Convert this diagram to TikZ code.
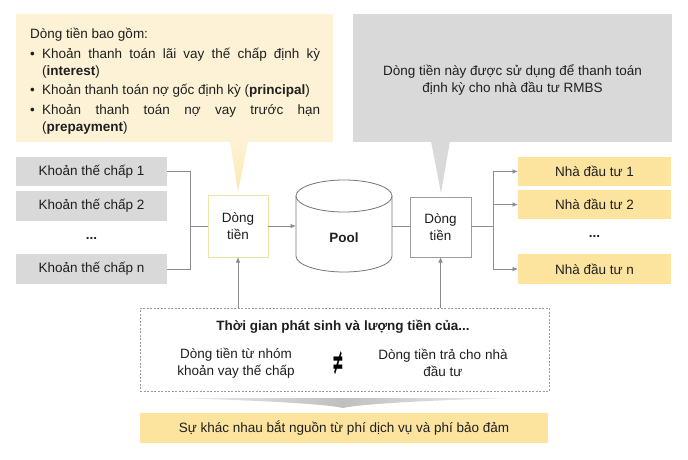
\documentclass[tikz,border=0pt]{standalone}
\usepackage{fontspec}
\setmainfont{Liberation Sans}
\newfontfamily\symfont{DejaVu Sans}
\usepackage{graphicx}
\usetikzlibrary{arrows.meta}
\definecolor{calloutY}{HTML}{FDF2D5}
\definecolor{boxY}{HTML}{FCE49E}
\definecolor{grayBox}{HTML}{D9D9D9}
\definecolor{yBorder}{HTML}{EDE3A8}
\definecolor{gBorder}{HTML}{9E9E9E}
\definecolor{lineC}{HTML}{8C8C8C}
\definecolor{dashC}{HTML}{9A9A9A}
\definecolor{txt}{HTML}{1F1F1F}
\tikzset{
  gbox/.style={fill=grayBox, minimum width=151pt, minimum height=29.5pt, inner sep=0pt, outer sep=0pt, text=txt},
  ybox/.style={fill=boxY, minimum width=153pt, minimum height=29.5pt, inner sep=0pt, outer sep=0pt, text=txt},
  flowbox/.style={draw, line width=0.8pt, fill=white, minimum width=60pt, minimum height=62pt, inner sep=0pt, outer sep=0pt, align=center, text=txt},
  conn/.style={draw=lineC, line width=0.8pt},
  arr/.style={conn, -{Latex[length=5.5pt,width=4.5pt]}, fill=none},
  ctext/.style={inner sep=0pt, anchor=base west, text=txt},
  dotsnode/.style={inner sep=0pt, text=txt, font=\fontsize{13.5}{16}\selectfont\bfseries},
}
\begin{document}
\begin{tikzpicture}[x=1pt,y=-1pt, font=\fontsize{13.5}{16.5}\selectfont]
\useasboundingbox (0,0) rectangle (688,460);
\fill[white] (0,0) rectangle (688,460);

% callouts
\node[fill=calloutY, minimum width=317pt, minimum height=128pt, inner sep=0pt] (cl) at (174.5,78) {};
\shade[top color=calloutY, bottom color=boxY!70!calloutY] (230,141) -- (248,141) -- (238,192) -- cycle;
\node[fill=grayBox, minimum width=319pt, minimum height=128pt, inner sep=0pt] (cr) at (512.5,78) {};
\fill[grayBox] (431,141) -- (441,193) -- (450,141) -- cycle;

\node[ctext] (t0) at (30,39) {Dòng tiền bao gồm:};
\node[ctext] (b1) at (30,59) {•};
\node[ctext] (l1) at (42,59) {\makebox[278pt][s]{Khoản thanh toán lãi vay thế chấp định kỳ}};
\node[ctext] (l1b) at (42,76) {(\textbf{interest})};
\node[ctext] (b2) at (30,95) {•};
\node[ctext] (l2) at (42,95) {Khoản thanh toán nợ gốc định kỳ (\textbf{principal})};
\node[ctext] (b3) at (30,114) {•};
\node[ctext] (l3) at (42,114) {\makebox[278pt][s]{Khoản thanh toán nợ vay trước hạn}};
\node[ctext] (l3b) at (42,131) {(\textbf{prepayment})};

\node[align=center, inner sep=0pt, text=txt] (crt) at (512.5,80) {Dòng tiền này được sử dụng để thanh toán\\định kỳ cho nhà đầu tư RMBS};

% left boxes
\node[gbox] (k1) at (91.5,171.5) {Khoản thế chấp 1};
\node[gbox] (k2) at (91.5,206) {Khoản thế chấp 2};
\node[dotsnode] (kd) at (91.5,238) {...};
\node[gbox] (kn) at (91.5,269) {Khoản thế chấp n};

% right boxes
\node[ybox] (n1) at (594.5,171.5) {Nhà đầu tư 1};
\node[ybox] (n2) at (594.5,204.5) {Nhà đầu tư 2};
\node[dotsnode] (nd) at (594.5,236) {...};
\node[ybox] (nn) at (594.5,269) {Nhà đầu tư n};

% flow boxes
\node[flowbox, draw=yBorder] (d1) at (238,226) {Dòng\\tiền};
\node[flowbox, draw=gBorder, minimum width=61pt, minimum height=60pt] (d2) at (440.5,227) {Dòng\\tiền};

% pool cylinder
\draw[lineC!85!black, line width=0.8pt, fill=white]
  (296,196) -- (296,256)
  .. controls (296,264.8) and (317.5,272) .. (344,272)
  .. controls (370.5,272) and (392,264.8) .. (392,256)
  -- (392,196)
  .. controls (392,187.2) and (370.5,180) .. (344,180)
  .. controls (317.5,180) and (296,187.2) .. (296,196) -- cycle;
\draw[lineC!85!black, line width=0.8pt]
  (296,196) .. controls (296,204.8) and (317.5,212) .. (344,212)
  .. controls (370.5,212) and (392,204.8) .. (392,196);
\node[inner sep=0pt, text=txt, font=\fontsize{13.5}{16}\selectfont\bfseries] (pool) at (344,238) {Pool};
\coordinate (poolW) at (296,226);
\coordinate (poolE) at (392,226);

% connectors
\coordinate (jl) at (190,226);
\draw[conn] (k1.east) -| (jl);
\draw[conn] (kn.east) -| (jl);
\draw[conn] (jl) -- (d1.west);
\draw[arr] (d1.east) -- (poolW);
\draw[conn] (poolE) -- (poolE -| d2.west);
\coordinate (jr) at (493,226);
\draw[conn] (jr -| d2.east) -- (jr);
\draw[arr] (jr) |- (n1.west);
\draw[arr] (jr) |- (n2.west);
\draw[arr] (jr) |- (nn.west);

% comparison box
\node[draw=dashC, line width=0.8pt, dash pattern=on 2pt off 1.5pt, minimum width=409pt, minimum height=83pt, inner sep=0pt] (cmp) at (344.5,349.5) {};
\draw[arr] (cmp.north -| d1.south) -- (d1.south);
\draw[arr] (cmp.north -| d2.south) -- (d2.south);
\node[inner sep=0pt, text=txt, font=\fontsize{13.5}{16}\selectfont\bfseries] (ttl) at (343,327) {Thời gian phát sinh và lượng tiền của...};
\node[inner sep=0pt, align=center, text=txt] (lt) at (236,363) {Dòng tiền từ nhóm\\khoản vay thế chấp};
\node[inner sep=0pt, align=center, text=txt] (rt) at (443,363) {Dòng tiền trả cho nhà\\đầu tư};
\node[inner sep=0pt, text=black, font=\symfont\bfseries\fontsize{28}{28}\selectfont] (neq) at (338,363) {\scalebox{0.5}[1.3]{≠}};

% chevron
\shade[left color=gray!12, right color=gray!12, middle color=gray!50]
  (168,398) -- (515,398) .. controls (430,400) and (360,404) .. (343,408)
  .. controls (326,404) and (256,400) .. (168,398) -- cycle;

% bottom box
\node[fill=boxY, minimum width=408pt, minimum height=30pt, inner sep=0pt, text=txt] (diff) at (344,428) {Sự khác nhau bắt nguồn từ phí dịch vụ và phí bảo đảm};
\end{tikzpicture}
\end{document}
